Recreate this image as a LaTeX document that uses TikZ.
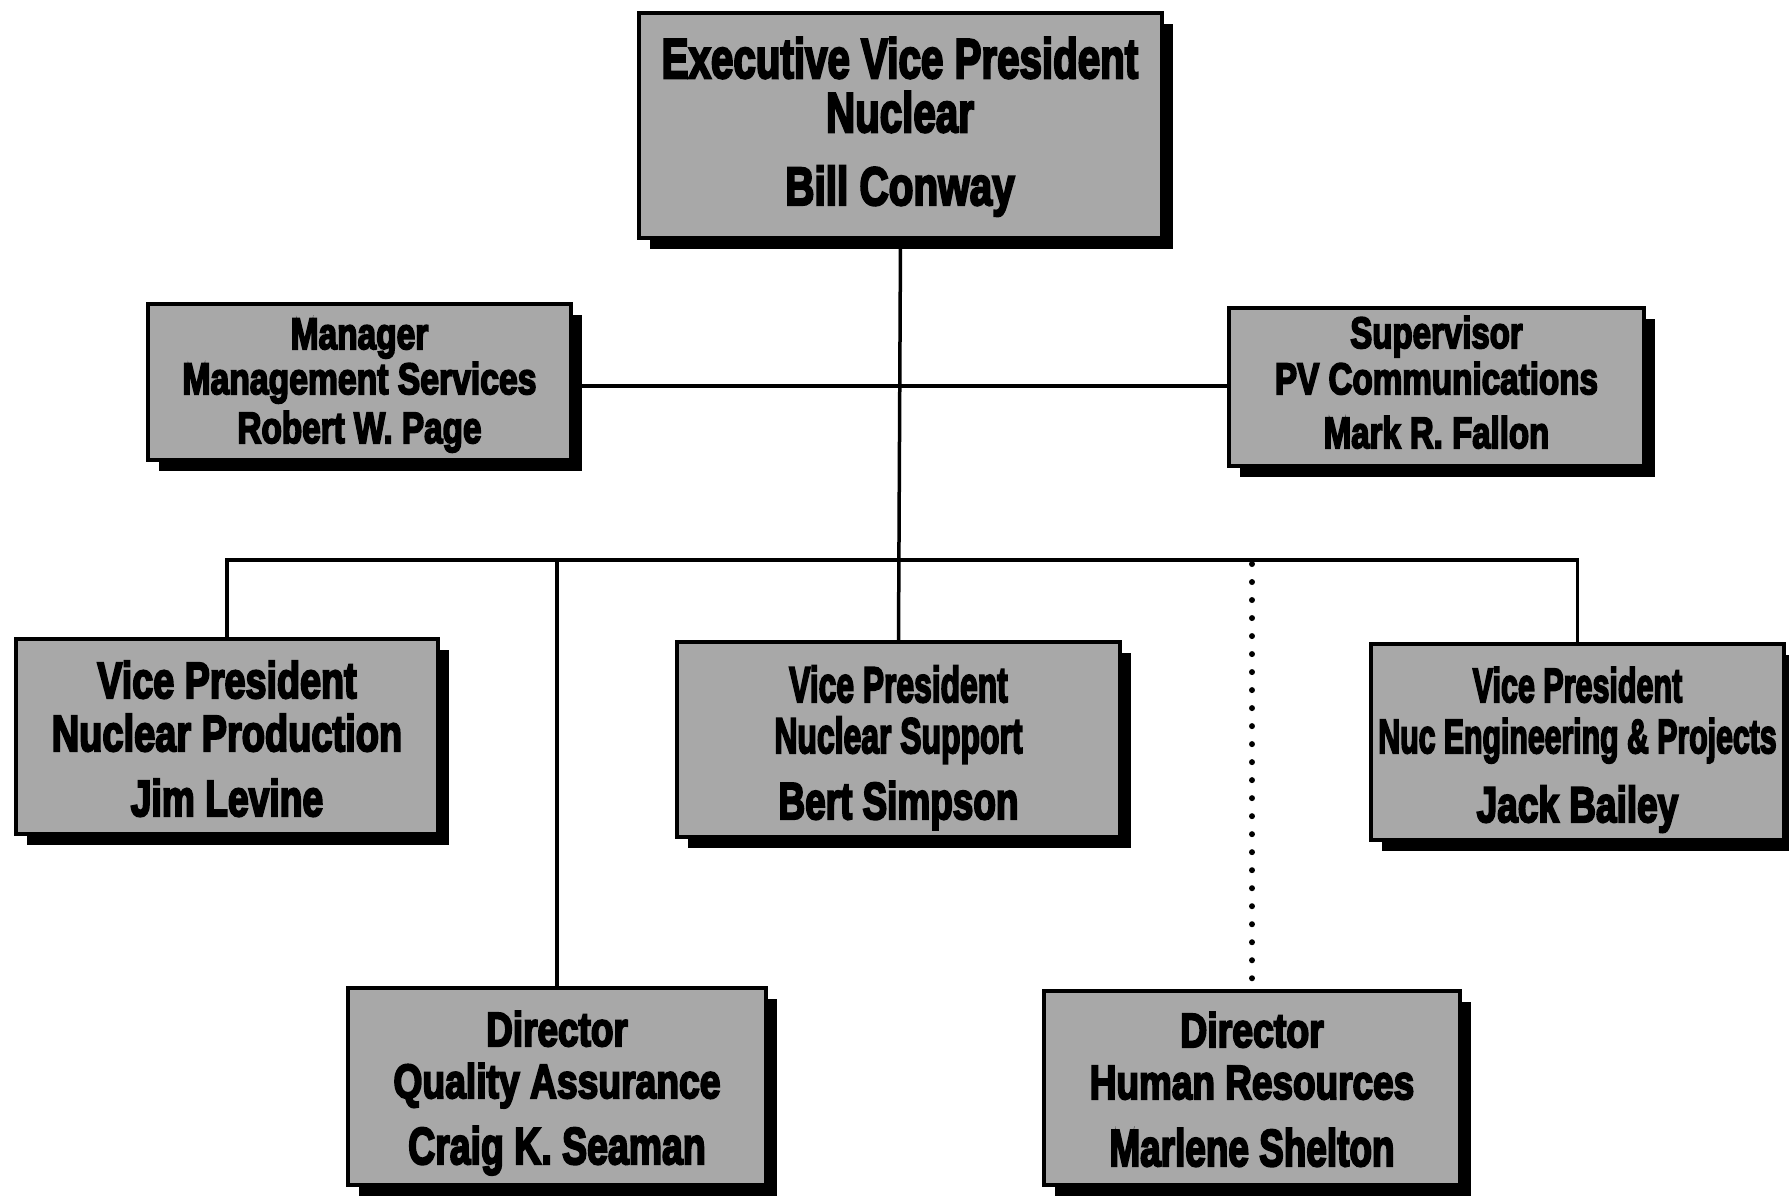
\documentclass[tikz,border=0pt]{standalone}
\usepackage{fontspec}
\setmainfont{Liberation Sans}
\newfontfamily\chartfont{Liberation Sans}[BoldFeatures={FakeBold=4.5}]
\usetikzlibrary{shadows}

\definecolor{boxgray}{gray}{0.66}

% size, horizontal squeeze, text
\newcommand\orgtext[3]{\fontsize{#1}{#1}\selectfont\scalebox{#2}[1]{#3}}

\begin{document}
\begin{tikzpicture}[x=1pt,y=-1pt,
  box/.style={draw=black, line width=3.5pt, fill=boxgray, inner sep=0pt,
    drop shadow={shadow xshift=11pt, shadow yshift=-11pt, fill=black, opacity=1}},
  txt/.style={anchor=base, inner sep=0pt, text=black, font=\chartfont\bfseries},
  wire/.style={draw=black, line width=3.5pt},
  dotline/.style={draw=black, line width=6pt, line cap=round,
    dash pattern=on 0.01pt off 18pt, dash phase=14pt}]

\path[use as bounding box, fill=white] (0,0) rectangle (1789,1195);

% boxes
\node[box, minimum width=523pt, minimum height=225pt] (evp)  at (900.5,125.5) {};
\node[box, minimum width=423pt, minimum height=156pt] (mgr)  at (359.5,382) {};
\node[box, minimum width=415pt, minimum height=158pt] (sup)  at (1436.5,387) {};
\node[box, minimum width=422pt, minimum height=195pt] (prod) at (227,736.5) {};
\node[box, minimum width=443pt, minimum height=195pt] (supp) at (898.5,739.5) {};
\node[box, minimum width=413pt, minimum height=196pt] (eng)  at (1577.5,742) {};
\node[box, minimum width=418pt, minimum height=197pt] (qa)   at (557,1086.5) {};
\node[box, minimum width=416pt, minimum height=194pt] (hr)   at (1252,1088) {};

% texts
\node[txt] (evp-1) at (900,78)  {\orgtext{56}{0.72}{Executive Vice President}};
\node[txt] (evp-2) at (900,132) {\orgtext{56}{0.72}{Nuclear}};
\node[txt] (evp-3) at (900,205) {\orgtext{54}{0.75}{Bill Conway}};

\node[txt] (mgr-1) at (359.5,349) {\orgtext{44}{0.76}{Manager}};
\node[txt] (mgr-2) at (359.5,394) {\orgtext{44}{0.766}{Management Services}};
\node[txt] (mgr-3) at (359.5,443) {\orgtext{44}{0.756}{Robert W. Page}};

\node[txt] (sup-1) at (1436.5,348) {\orgtext{44}{0.75}{Supervisor}};
\node[txt] (sup-2) at (1436.5,394) {\orgtext{44}{0.755}{PV Communications}};
\node[txt] (sup-3) at (1436.5,448) {\orgtext{44}{0.75}{Mark R. Fallon}};

\node[txt] (prod-1) at (227,698) {\orgtext{51}{0.74}{Vice President}};
\node[txt] (prod-2) at (227,751) {\orgtext{51}{0.745}{Nuclear Production}};
\node[txt] (prod-3) at (227,816) {\orgtext{51}{0.73}{Jim Levine}};

\node[txt] (supp-1) at (898.5,702) {\orgtext{50}{0.636}{Vice President}};
\node[txt] (supp-2) at (898.5,753) {\orgtext{50}{0.638}{Nuclear Support}};
\node[txt] (supp-3) at (898.5,819) {\orgtext{52}{0.71}{Bert Simpson}};

\node[txt] (eng-1) at (1577.5,702) {\orgtext{48}{0.635}{Vice President}};
\node[txt] (eng-2) at (1577.5,753) {\orgtext{48}{0.63}{Nuc Engineering \& Projects}};
\node[txt] (eng-3) at (1577.5,822) {\orgtext{50}{0.74}{Jack Bailey}};

\node[txt] (qa-1) at (557,1046) {\orgtext{48}{0.77}{Director}};
\node[txt] (qa-2) at (557,1098) {\orgtext{48}{0.776}{Quality Assurance}};
\node[txt] (qa-3) at (557,1164) {\orgtext{52}{0.72}{Craig K. Seaman}};

\node[txt] (hr-1) at (1252,1047) {\orgtext{48}{0.78}{Director}};
\node[txt] (hr-2) at (1252,1099) {\orgtext{48}{0.77}{Human Resources}};
\node[txt] (hr-3) at (1252,1166) {\orgtext{52}{0.71}{Marlene Shelton}};

% connectors
\coordinate (staff) at (0,386);
\coordinate (bus) at (0,560);
\draw[wire] (evp.south) -- (supp.north);
\draw[wire] (mgr.east |- staff) -- (sup.west |- staff);
\draw[wire] (prod.north) -- (prod.north |- bus) -- (eng.north |- bus) -- (eng.north);
\draw[wire] (qa.north |- bus) -- (qa.north);
\draw[dotline] (hr.north |- bus) -- (hr.north);
\end{tikzpicture}
\end{document}
